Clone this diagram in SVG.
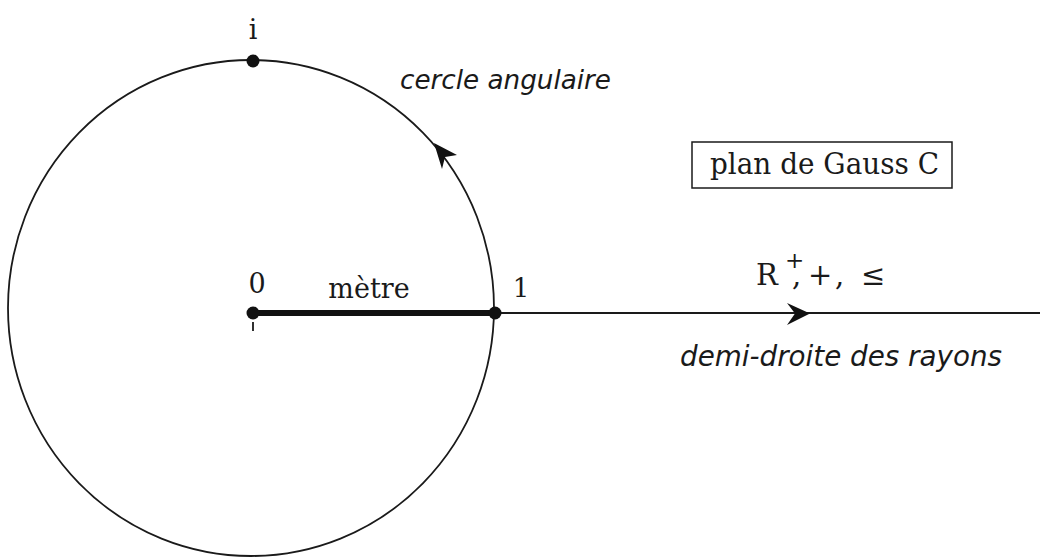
<svg xmlns="http://www.w3.org/2000/svg" width="1040" height="558" viewBox="0 0 1040 558">
<style>
.serif{font-family:"DejaVu Serif","Liberation Serif",serif;fill:#1a1a1a}
.ital{font-family:"DejaVu Sans","Liberation Sans",sans-serif;font-style:italic;fill:#1a1a1a}
.thin{fill:none;stroke:#1a1a1a;stroke-width:1.8}
.dot{fill:#111}
.head{fill:#111}
</style>
<rect width="1040" height="558" fill="#fff"/>
<g id="connectors">
<ellipse id="cercle" class="thin" cx="251" cy="308" rx="243" ry="248"/>
<line class="thin" x1="495" y1="313" x2="1040" y2="313"/>
<line x1="253" y1="313" x2="495" y2="313" stroke="#111" stroke-width="6"/>
<line class="thin" x1="253" y1="322" x2="253" y2="331" stroke-width="1.5"/>
<path class="head" d="M434,143 L457,155 L445,157 L442,169 Z"/>
<path class="head" d="M810,313.5 L787,303 L795,313.5 L787,325 Z"/>
</g>
<g id="node-i">
<circle class="dot" cx="253" cy="61" r="6.5"/>
<text class="serif" x="253" y="39" font-size="27" text-anchor="middle">i</text>
</g>
<g id="node-0">
<circle class="dot" cx="253" cy="313" r="6.5"/>
<text class="serif" x="257" y="293" font-size="27" text-anchor="middle">0</text>
</g>
<g id="node-1">
<circle class="dot" cx="495" cy="313" r="6.5"/>
<text class="serif" x="521" y="297" font-size="26" text-anchor="middle">1</text>
</g>
<g id="label-metre">
<text class="serif" x="369" y="298" font-size="27" text-anchor="middle">mètre</text>
</g>
<g id="label-cercle">
<text class="ital" x="400" y="89" font-size="26" textLength="211" lengthAdjust="spacingAndGlyphs">cercle angulaire</text>
</g>
<g id="node-plan">
<rect x="692" y="142" width="260" height="46" fill="#fff" stroke="#1a1a1a" stroke-width="1.5"/>
<text class="serif" x="710" y="174" font-size="29" textLength="229" lengthAdjust="spacingAndGlyphs">plan de Gauss C</text>
</g>
<g id="label-R">
<text class="serif" x="756" y="285" font-size="29">R<tspan x="785" y="268" font-size="23">+</tspan><tspan x="792" y="285">,</tspan><tspan x="808" y="285">+</tspan><tspan x="835" y="285">,</tspan><tspan x="861" y="285">≤</tspan></text>
</g>
<g id="label-demi">
<text class="ital" x="680" y="366" font-size="28" textLength="322" lengthAdjust="spacingAndGlyphs">demi-droite des rayons</text>
</g>
</svg>
